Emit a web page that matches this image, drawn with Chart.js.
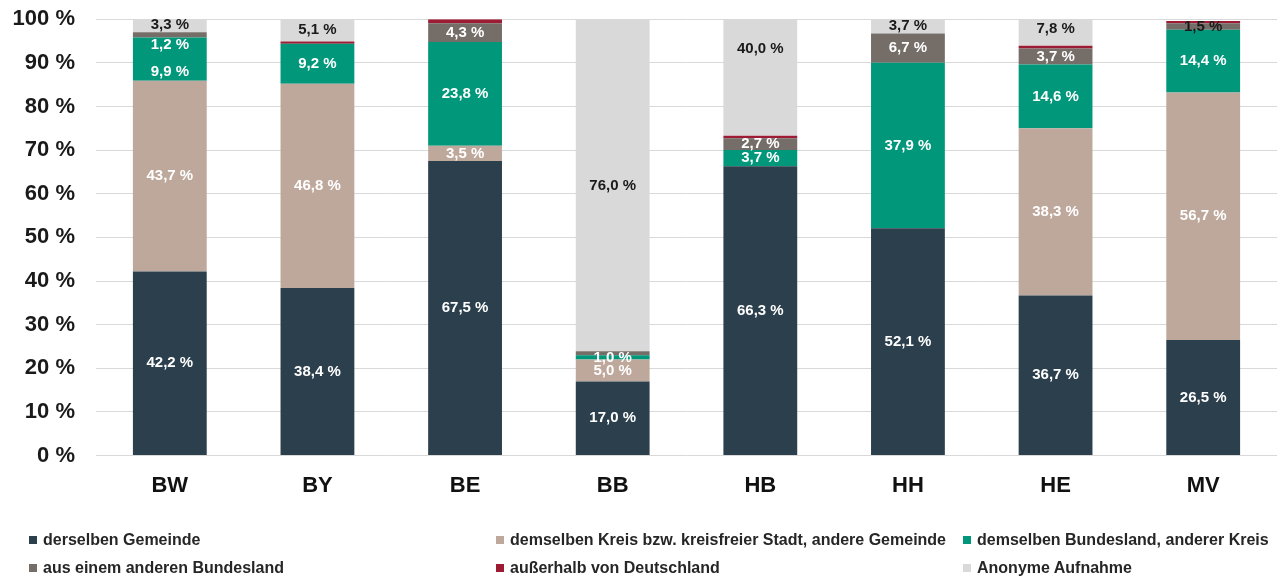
<!DOCTYPE html>
<html lang="de">
<head>
    <meta charset="UTF-8">
    <title>Wohnort vor der Aufnahme</title>
    <script src="https://cdn.jsdelivr.net/npm/chart.js"></script>
    <style>
        html, body { margin: 0; padding: 0; background: #fff; overflow: hidden; }
        .wrap { position: relative; width: 1287px; height: 581px; overflow: hidden; }
        #chart { position: absolute; left: 0; top: -15px; }
        .legend {
            position: absolute; left: 0; top: 530px; width: 1287px; height: 50px;
            font-family: "Liberation Sans", Arial, sans-serif; font-size: 16px; font-weight: bold; color: #262626;
        }
        .legend .item { position: absolute; white-space: nowrap; line-height: 20px; }
        .legend .box { display: inline-block; width: 8px; height: 8px; margin-right: 6px; vertical-align: 1px; }
    </style>
</head>
<body>
    <div class="wrap">
        <canvas id="chart" width="1287" height="596"></canvas>
        <div class="legend" id="legend"></div>
    </div>
    <script>
        const categories = ['BW', 'BY', 'BE', 'BB', 'HB', 'HH', 'HE', 'MV'];
        const seriesNames = [
            'derselben Gemeinde',
            'demselben Kreis bzw. kreisfreier Stadt, andere Gemeinde',
            'demselben Bundesland, anderer Kreis',
            'aus einem anderen Bundesland',
            'außerhalb von Deutschland',
            'Anonyme Aufnahme'
        ];
        const gemeinde    = [42.2, 38.4, 67.5, 17.0, 66.3, 52.1, 36.7, 26.5];
        const kreis       = [43.7, 46.8, 3.5, 5.0, 0, 0, 38.3, 56.7];
        const bundesland  = [9.9, 9.2, 23.8, 1.0, 3.7, 37.9, 14.6, 14.4];
        const anderesLand = [1.2, 0, 4.3, 0.9, 2.7, 6.7, 3.7, 1.5];
        const ausland     = [0, 0.5, 0.9, 0, 0.6, 0, 0.6, 0.5];
        const anonym      = [3.3, 5.1, 0, 76.0, 40.0, 3.7, 7.8, 0];
        const yTicks = [0, 10, 20, 30, 40, 50, 60, 70, 80, 90, 100];

        const colors = ['#2b3f4c', '#bea89c', '#00977a', '#756d68', '#9e1b34', '#d9d9d9'];
        const labelColors = ['#fff', '#fff', '#fff', '#fff', '#fff', '#1a1a1a'];
        const series = [gemeinde, kreis, bundesland, anderesLand, ausland, anonym];

        const fmt = v => v.toFixed(1).replace('.', ',') + ' %';

        // value labels in the middle of each segment (small ones left out)
        const segmentLabels = {
            id: 'segmentLabels',
            afterDatasetsDraw(chart, args, opts) {
                const ctx = chart.ctx;
                ctx.save();
                ctx.font = 'bold 15px "Liberation Sans", Arial, sans-serif';
                ctx.textAlign = 'center';
                ctx.textBaseline = 'middle';
                chart.data.datasets.forEach((ds, i) => {
                    const meta = chart.getDatasetMeta(i);
                    meta.data.forEach((bar, j) => {
                        const v = ds.data[j];
                        if (v < 1) return;
                        const key = i + ':' + j;
                        const shift = opts.shift[key] || 0;
                        ctx.fillStyle = opts.color[key] || labelColors[i];
                        ctx.fillText(fmt(v), bar.x, (bar.y + bar.base) / 2 + shift);
                    });
                });
                ctx.restore();
            }
        };

        const chart = new Chart(document.getElementById('chart'), {
            type: 'bar',
            data: {
                labels: categories,
                datasets: series.map((d, i) => ({
                    label: seriesNames[i],
                    data: d,
                    backgroundColor: colors[i],
                    borderWidth: 0,
                    barPercentage: 0.5,
                    categoryPercentage: 1.0
                }))
            },
            options: {
                responsive: false,
                animation: false,
                layout: { padding: { top: 0, right: 10, bottom: 73, left: 0 } },
                scales: {
                    x: {
                        stacked: true,
                        grid: { display: false },
                        border: { display: false },
                        ticks: {
                            color: '#111',
                            padding: 9,
                            font: { family: '"Liberation Sans", Arial, sans-serif', size: 22, weight: 'bold' }
                        }
                    },
                    y: {
                        stacked: true,
                        min: 0,
                        max: 100,
                        afterFit(scale) { scale.width = 96; },
                        afterBuildTicks(scale) { scale.ticks = yTicks.map(v => ({ value: v })); },
                        grid: { color: '#d9d9d9', lineWidth: 1, drawTicks: false },
                        border: { display: false },
                        ticks: {
                            color: '#1a1a1a',
                            padding: 21,
                            font: { family: '"Liberation Sans", Arial, sans-serif', size: 22, weight: 'bold' },
                            callback: v => v + ' %'
                        }
                    }
                },
                plugins: {
                    legend: { display: false },
                    tooltip: { enabled: false },
                    segmentLabels: {
                        shift: { '2:0': 13, '3:0': 10 },
                        color: { '3:7': '#1a1a1a' }
                    }
                }
            },
            plugins: [segmentLabels]
        });

        // legend laid out in three columns like the original
        const cols = [29, 496, 963];
        const legendEl = document.getElementById('legend');
        seriesNames.forEach((name, i) => {
            const item = document.createElement('div');
            item.className = 'item';
            item.style.left = cols[i % 3] + 'px';
            item.style.top = (Math.floor(i / 3) * 28) + 'px';
            item.innerHTML = '<span class="box" style="background:' + colors[i] + '"></span>' + name;
            legendEl.appendChild(item);
        });
    </script>
</body>
</html>
